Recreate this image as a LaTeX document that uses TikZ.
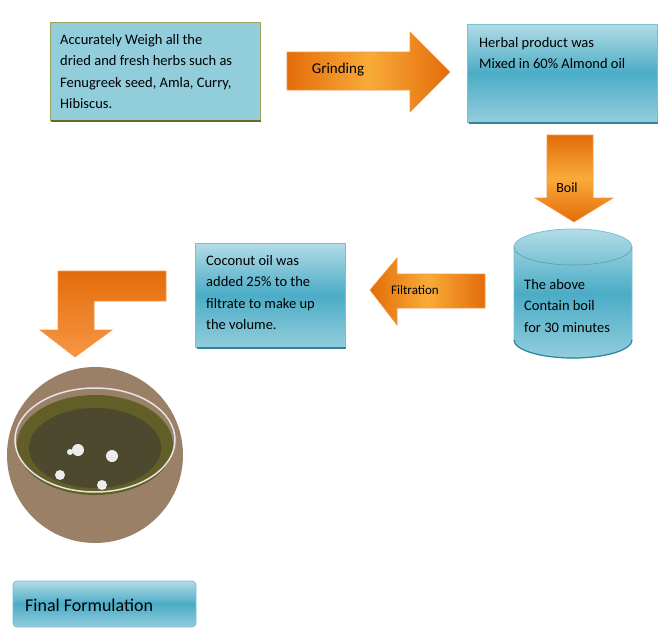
\documentclass[tikz,border=0pt]{standalone}
\usepackage{fontspec}
\setmainfont{Carlito}
\usetikzlibrary{shapes.geometric}
\definecolor{lb}{HTML}{92CDDC}
\definecolor{mb}{HTML}{4BACC6}
\definecolor{db}{HTML}{31849B}
\definecolor{og}{HTML}{F79646}
\definecolor{od}{HTML}{E36C09}
\tikzset{
 x=1pt,y=-1pt,
 bx/.style={top color=lb!70,bottom color=lb,middle color=mb,draw=lb!60!mb,line width=0.8pt},
 arr/.style={left color=od, right color=od, middle color=og!80!yellow, draw=og, line width=0.6pt},
 txt/.style={font=\fontsize{14.5}{21.5}\selectfont, align=left, anchor=north west, inner sep=0pt},
}
\begin{document}
\begin{tikzpicture}
\useasboundingbox (0,0) rectangle (669,629);
% box1
\fill[lb] (50,22) rectangle (260,120);
\draw[draw=olive!50!lb,line width=0.8pt] (50,22) rectangle (260,120);
\draw[olive!70!black,line width=1.5pt] (51,121) -- (261,121);
\node[txt] (t1) at (60,34) {Accurately Weigh all the\\dried and fresh herbs such as\\Fenugreek seed, Amla, Curry,\\Hibiscus.};
% grinding
\path[arr] (287,52) -- (410,52) -- (410,32) -- (450,72) -- (410,112) -- (410,90) -- (287,90) -- cycle;
\node[font=\fontsize{15}{18}\selectfont] (g) at (338,70) {Grinding};
% box2
\path[bx] (467,24) rectangle (657,122);
\draw[db,line width=1.5pt] (469,123) -- (658,123);
\node[txt] (t2) at (479,37) {Herbal product was\\Mixed in 60\% Almond oil};
% boil
\path[arr,top color=od,bottom color=od,middle color=og!80!yellow] (547,135) -- (593,135) -- (593,198) -- (613,198) -- (574,222) -- (535,198) -- (547,198) -- cycle;
\node[font=\fontsize{14}{18}\selectfont] (b) at (567,188) {Boil};
% cylinder
\path[bx] (514,247) -- (514,340) arc[start angle=180,end angle=0,x radius=59,y radius=18] -- (632,247) arc[start angle=0,end angle=-180,x radius=59,y radius=18] -- cycle;
\draw[db!80,line width=0.6pt] (514,247) arc[start angle=180,end angle=0,x radius=59,y radius=18];
\draw[db,line width=1.2pt] (514,340) arc[start angle=180,end angle=0,x radius=59,y radius=18];
\node[txt] (t3) at (524,279) {The above\\Contain boil\\for 30 minutes};
% filtration
\path[arr] (485,274) -- (397,274) -- (397,258) -- (370,290) -- (397,325) -- (397,308) -- (485,308) -- cycle;
\node[font=\fontsize{13}{16}\selectfont] (f) at (415,290) {Filtration};
% box3
\path[bx] (195,243) rectangle (345,347);
\draw[db,line width=1.5pt] (197,348) -- (346,348);
\node[txt] (t4) at (206,255) {Coconut oil was\\added 25\% to the\\filtrate to make up\\the volume.};
% bent arrow
\path[arr,top color=od,bottom color=og] (166,271) -- (58,271) -- (58,330) -- (40,330) -- (75,357) -- (112,330) -- (94,330) -- (94,301) -- (166,301) -- cycle;
% photo
\fill[brown!40!gray] (95,455) circle (88);
\fill[olive!60!black] (95,445) ellipse (78 and 50);
\fill[black!60!olive] (95,448) ellipse (66 and 40);
\draw[white!80!gray,line width=1.5pt] (95,440) ellipse (80 and 52);
\fill[white!85!gray] (78,450) circle (6);
\fill[white!85!gray] (112,456) circle (6);
\fill[white!85!gray] (102,485) circle (5);
\fill[white!85!gray] (60,475) circle (5);
\fill[white!85!gray] (70,452) circle (3);
% final
\path[bx,rounded corners=4pt] (13,581) rectangle (196,627);
\node[font=\fontsize{18}{22}\selectfont,anchor=west,inner sep=0pt] (ff) at (25,605) {Final Formulation};
\end{tikzpicture}
\end{document}
